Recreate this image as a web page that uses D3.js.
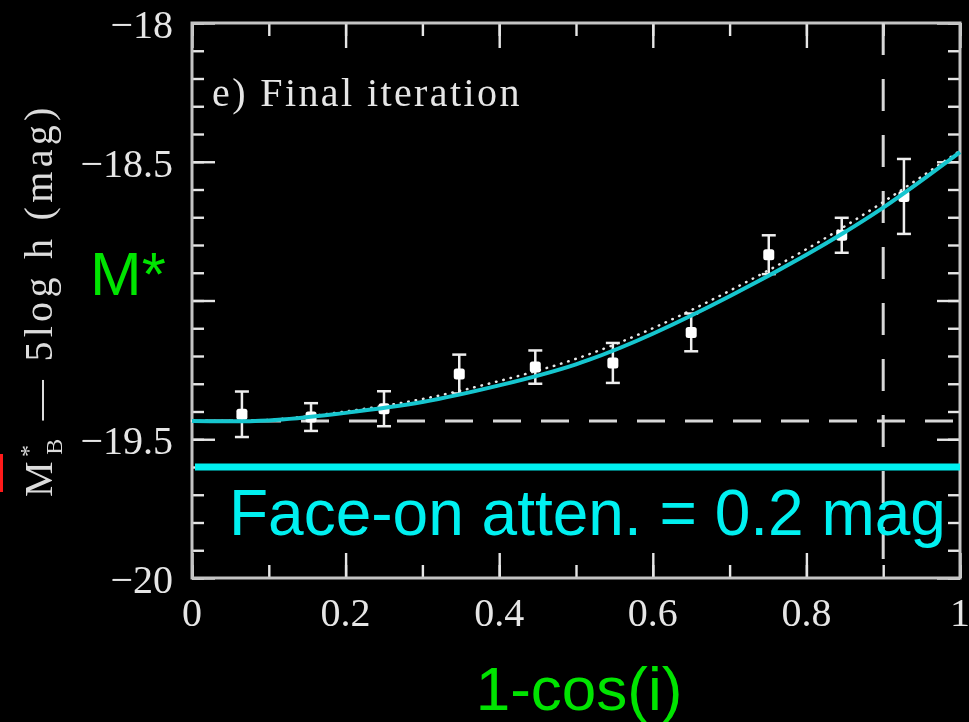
<!DOCTYPE html>
<html>
<head>
<meta charset="utf-8">
<script src="https://cdn.jsdelivr.net/npm/d3@7"></script>
<style>
  html, body { margin: 0; padding: 0; background: #000; }
  svg { display: block; }
</style>
</head>
<body>
<svg id="chart" width="969" height="722"></svg>
<script>
// Binned mean absolute magnitudes versus inclination term 1-cos(i)
const binCenters = [0.065, 0.155, 0.25, 0.348, 0.447, 0.548, 0.65, 0.751, 0.846, 0.927];
const meanMag    = [-19.41, -19.42, -19.39, -19.265, -19.24, -19.225, -19.115, -18.835, -18.765, -18.625];
const magErr     = [0.082, 0.05, 0.063, 0.07, 0.06, 0.072, 0.068, 0.07, 0.063, 0.135];

// Fitted attenuation curve (solid) and previous-iteration curve (dotted)
const fitX        = [0, 0.1, 0.2, 0.3, 0.4, 0.5, 0.6, 0.7, 0.8, 0.9, 1.0];
const fitMag      = [-19.434, -19.432, -19.405, -19.366, -19.306, -19.23, -19.12, -18.985, -18.835, -18.665, -18.465];
const priorFitMag = [-19.434, -19.43, -19.40, -19.355, -19.29, -19.21, -19.10, -18.965, -18.815, -18.645, -18.46];

// Reference levels
const faceOnMag = -19.434;   // dashed horizontal: fitted face-on M*
const attenMag  = -19.6;     // thick cyan marker
const cutX      = 0.9;       // dashed vertical cut

// Axis ticks and labels
const xTicks      = [0, 0.2, 0.4, 0.6, 0.8, 1];
const xTickLabels = ["0", "0.2", "0.4", "0.6", "0.8", "1"];
const yTicks      = [-18, -18.5, -19.5, -20];
const yTickLabels = ["\u221218", "\u221218.5", "\u221219.5", "\u221220"];

const svg = d3.select("#chart");
const W = 969, H = 722;
svg.append("rect").attr("width", W).attr("height", H).attr("fill", "#000");

// slight softening of the plotted panel
const defs = svg.append("defs");
defs.append("filter").attr("id", "soft")
  .attr("x", "-5%").attr("y", "-5%").attr("width", "110%").attr("height", "110%")
  .append("feGaussianBlur").attr("stdDeviation", 0.6);

const x = d3.scaleLinear().domain([0, 1]).range([192, 960]);
const y = d3.scaleLinear().domain([-20, -18]).range([578, 23]);

const frameColor = "#c4c4c4";
const inkColor = "#e6e6e6";
const serif = "'Liberation Serif', 'Times New Roman', serif";
const sans = "'Liberation Sans', Arial, Helvetica, sans-serif";

const plot = svg.append("g").attr("filter", "url(#soft)");

// ---- ticks on all four sides, pointing inward ----
const xMajor = d3.range(0, 6).map(i => i * 0.2);
const xMinor = d3.range(0, 11).map(i => i * 0.1);
const yMajor = d3.range(0, 5).map(i => -20 + i * 0.5);
const yMinor = d3.range(0, 21).map(i => -20 + i * 0.1);

function tickAxis(axis, transform) {
  const g = plot.append("g").attr("transform", transform).call(axis);
  g.select(".domain").remove();
  g.selectAll("text").remove();
  g.selectAll("line").attr("stroke", inkColor).attr("stroke-width", 2.4);
}
tickAxis(d3.axisBottom(x).tickValues(xMinor).tickSize(-13).tickFormat(""), `translate(0,${y(-20)})`);
tickAxis(d3.axisBottom(x).tickValues(xMajor).tickSize(-25).tickFormat(""), `translate(0,${y(-20)})`);
tickAxis(d3.axisTop(x).tickValues(xMinor).tickSize(-13).tickFormat(""), `translate(0,${y(-18)})`);
tickAxis(d3.axisTop(x).tickValues(xMajor).tickSize(-25).tickFormat(""), `translate(0,${y(-18)})`);
tickAxis(d3.axisLeft(y).tickValues(yMinor).tickSize(-12).tickFormat(""), `translate(${x(0)},0)`);
tickAxis(d3.axisLeft(y).tickValues(yMajor).tickSize(-23).tickFormat(""), `translate(${x(0)},0)`);
tickAxis(d3.axisRight(y).tickValues(yMinor).tickSize(-12).tickFormat(""), `translate(${x(1)},0)`);
tickAxis(d3.axisRight(y).tickValues(yMajor).tickSize(-23).tickFormat(""), `translate(${x(1)},0)`);

// ---- frame ----
plot.append("rect")
  .attr("x", x(0)).attr("y", y(-18))
  .attr("width", x(1) - x(0)).attr("height", y(-20) - y(-18))
  .attr("fill", "none").attr("stroke", frameColor).attr("stroke-width", 3);

// ---- tick labels ----
plot.append("g").selectAll("text").data(xTicks).join("text")
  .attr("x", d => x(d)).attr("y", y(-20) + 48)
  .attr("text-anchor", "middle")
  .attr("font-family", serif).attr("font-size", 40)
  .attr("fill", inkColor)
  .text((d, i) => xTickLabels[i]);

plot.append("g").selectAll("text").data(yTicks).join("text")
  .attr("x", x(0) - 19).attr("y", d => y(d) + 15)
  .attr("text-anchor", "end")
  .attr("font-family", serif).attr("font-size", 40)
  .attr("fill", inkColor)
  .text((d, i) => yTickLabels[i]);

// ---- y axis title ----
const yTitle = plot.append("text")
  .attr("transform", `translate(52,497) rotate(-90)`)
  .attr("font-family", serif).attr("font-size", 40)
  .attr("letter-spacing", 4.3)
  .attr("fill", "#dcdcdc");
yTitle.append("tspan").text("M");
yTitle.append("tspan").attr("font-size", 24).attr("dy", -16).text("*");
yTitle.append("tspan").attr("font-size", 24).attr("dx", -14).attr("dy", 26).text("B");
yTitle.append("tspan").attr("dy", -10).text(" \u2014 5log h (mag)");

// ---- panel title ----
plot.append("text")
  .attr("x", 212).attr("y", 106)
  .attr("font-family", serif).attr("font-size", 40)
  .attr("letter-spacing", 2.4)
  .attr("fill", inkColor)
  .text("e) Final iteration");

// ---- dashed reference lines ----
plot.append("line")
  .attr("x1", x(0)).attr("x2", x(1))
  .attr("y1", y(faceOnMag)).attr("y2", y(faceOnMag))
  .attr("stroke", "#d8d8d8").attr("stroke-width", 3)
  .attr("stroke-dasharray", "28 20").attr("stroke-dashoffset", 35);

plot.append("line")
  .attr("x1", x(cutX)).attr("x2", x(cutX))
  .attr("y1", y(-18)).attr("y2", y(-20))
  .attr("stroke", "#d8d8d8").attr("stroke-width", 3)
  .attr("stroke-dasharray", "32 24");

// ---- curves ----
const line = d3.line()
  .x(d => x(d[0])).y(d => y(d[1]))
  .curve(d3.curveNatural);

plot.append("path")
  .datum(fitX.map((v, i) => [v, priorFitMag[i]]))
  .attr("d", line)
  .attr("fill", "none").attr("stroke", "#e8e8e8").attr("stroke-width", 2.5)
  .attr("stroke-linecap", "round").attr("stroke-dasharray", "0.5 7");

// ---- data points with error bars ----
const pts = binCenters.map((v, i) => ({ x: v, m: meanMag[i], e: magErr[i] }));
const pg = plot.append("g").selectAll("g").data(pts).join("g");
pg.append("line")
  .attr("x1", d => x(d.x)).attr("x2", d => x(d.x))
  .attr("y1", d => y(d.m - d.e)).attr("y2", d => y(d.m + d.e))
  .attr("stroke", "#eeeeee").attr("stroke-width", 2.5);
[-1, 1].forEach(s => {
  pg.append("line")
    .attr("x1", d => x(d.x) - 7).attr("x2", d => x(d.x) + 7)
    .attr("y1", d => y(d.m + s * d.e)).attr("y2", d => y(d.m + s * d.e))
    .attr("stroke", "#eeeeee").attr("stroke-width", 2.5);
});
pg.append("rect")
  .attr("x", d => x(d.x) - 5.5).attr("y", d => y(d.m) - 5.5)
  .attr("width", 11).attr("height", 11).attr("rx", 2.5)
  .attr("fill", "#ffffff");

plot.append("path")
  .datum(fitX.map((v, i) => [v, fitMag[i]]))
  .attr("d", line)
  .attr("fill", "none").attr("stroke", "#18c6cf").attr("stroke-width", 4);

// ---- annotations ----
svg.append("line")
  .attr("x1", x(0) + 3).attr("x2", x(1))
  .attr("y1", y(attenMag)).attr("y2", y(attenMag))
  .attr("stroke", "#00f0f0").attr("stroke-width", 7);

svg.append("text")
  .attr("x", 229).attr("y", 535)
  .attr("font-family", sans).attr("font-size", 64)
  .attr("fill", "#00f0f0")
  .text("Face-on atten. = 0.2 mag");

svg.append("text")
  .attr("x", 90).attr("y", 295)
  .attr("font-family", sans).attr("font-size", 62)
  .attr("fill", "#00e400")
  .text("M*");

svg.append("text")
  .attr("x", 579).attr("y", 710)
  .attr("text-anchor", "middle")
  .attr("font-family", sans).attr("font-size", 62)
  .attr("fill", "#00e400")
  .text("1-cos(i)");

svg.append("rect")
  .attr("x", 0).attr("y", 454).attr("width", 3).attr("height", 38)
  .attr("fill", "#ff1a1a");
</script>
</body>
</html>
